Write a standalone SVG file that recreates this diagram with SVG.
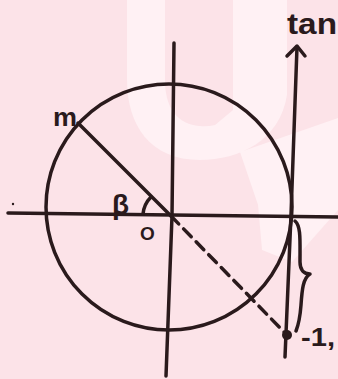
<svg xmlns="http://www.w3.org/2000/svg" width="338" height="379" viewBox="0 0 338 379">
<style>
.ink{fill:none;stroke:#2a1a1c;stroke-width:3.5;stroke-linecap:round;stroke-linejoin:round}
.lbl{font-family:"Liberation Sans",Arial,sans-serif;fill:#2a1a1c;font-weight:bold}
.wm{fill:#fff4f6}
</style>
<rect width="338" height="379" fill="#fce3e8"/>
<g id="watermark">
<path class="wm" d="M127,0 L165,0 L165,80 C165,120 190,130 215,125 L233,110 L233,0 L287,0 L287,95 C280,140 240,160 200,160 C150,160 127,125 127,80 Z" opacity="0.8"/>
<path class="wm" d="M240,152 L338,118 L338,210 L292,262 L262,250 L258,205 Z" opacity="0.8"/>
</g>
<g id="unit-circle">
<circle class="ink" cx="169" cy="207" r="123"/>
</g>
<g id="axes">
<polyline class="ink" stroke-width="3" points="8,213 172,215 338,217"/>
<circle cx="13" cy="204" r="1.2" fill="#2a1a1c"/>
<polyline class="ink" points="174,43 172,216 166,376"/>
</g>
<g id="connectors">
<line id="OM" class="ink" x1="78" y1="123" x2="171" y2="216"/>
<line id="dashed" class="ink" x1="171" y1="216" x2="287" y2="335" stroke-dasharray="11 7"/>
<path id="angle-arc" class="ink" stroke-width="4.5" d="M143,214 A28,28 0 0 1 151,197"/>
<polyline id="tan-axis" class="ink" points="285,357 291,215 297,47"/>
<polyline id="tan-arrowhead" class="ink" points="287,56 297,46 305,56"/>
<path id="brace" class="ink" stroke-width="4" d="M295,221 C301,226 300,240 300,262 C300,270 304,274 310,274 C303,278 302,290 301,305 C300,318 298,326 296,331"/>
<circle id="point" cx="287" cy="335" r="5" fill="#2a1a1c"/>
</g>
<g id="labels">
<text class="lbl" x="53" y="126" font-size="26" textLength="24" lengthAdjust="spacingAndGlyphs">m</text>
<text class="lbl" x="112" y="214" font-size="28">β</text>
<text class="lbl" x="140" y="240" font-size="19">O</text>
<text class="lbl" x="287" y="34" font-size="30" textLength="50" lengthAdjust="spacingAndGlyphs">tan</text>
<text class="lbl" x="301" y="346" font-size="26" textLength="34" lengthAdjust="spacingAndGlyphs">-1,</text>
</g>
</svg>
